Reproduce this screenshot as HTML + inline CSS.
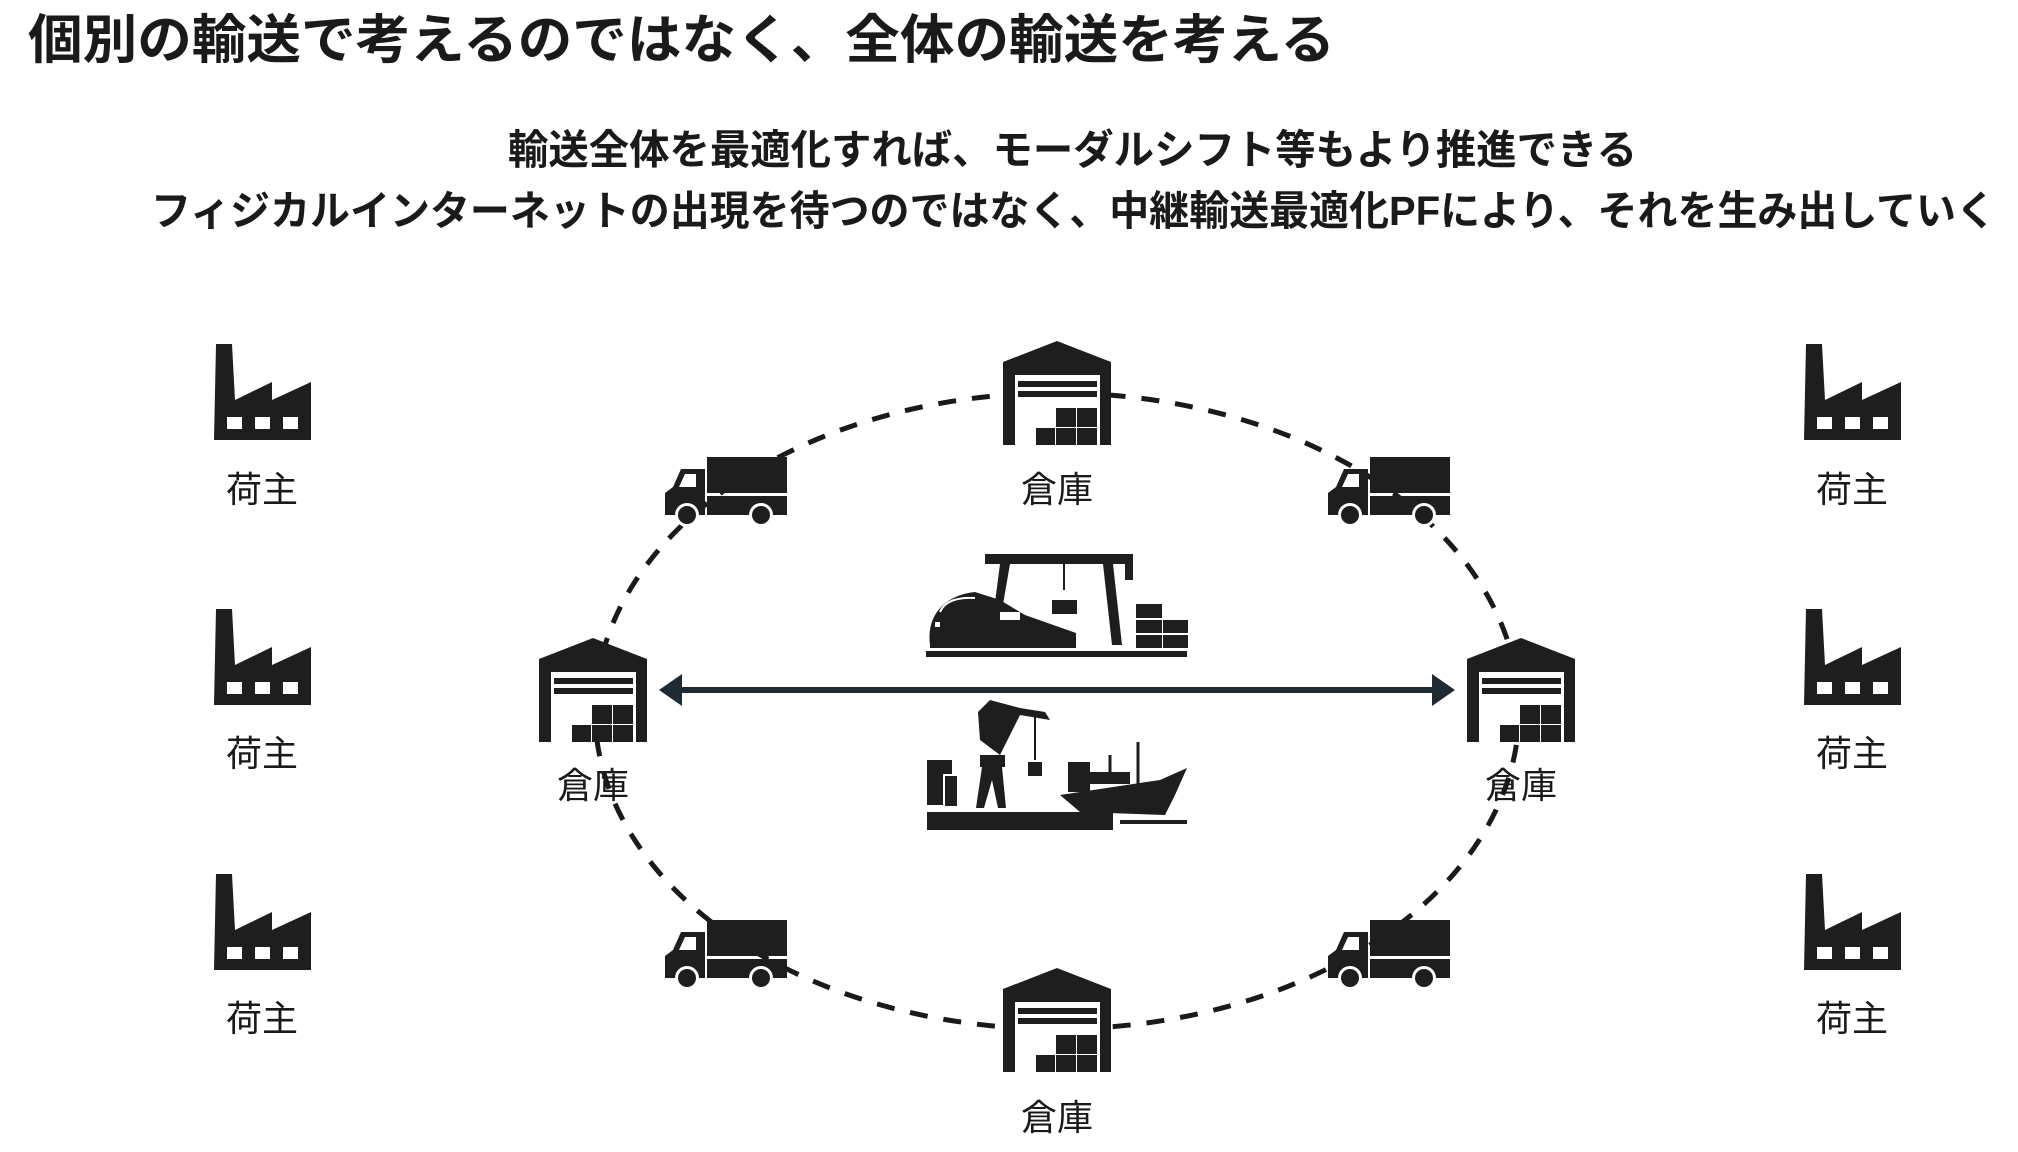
<!DOCTYPE html>
<html><head><meta charset="utf-8"><style>
html,body{margin:0;padding:0;background:#fff;}
svg{display:block;}
text{font-family:"Liberation Sans","Noto Sans CJK JP",sans-serif;fill:#1a1a1a;}
</style></head><body>
<svg width="2018" height="1152" viewBox="0 0 2018 1152" xmlns="http://www.w3.org/2000/svg">
<defs>
<g id="factory">
<path d="M0 96 L2 0 L18 0 L21 56 L58 38 L58 56 L97 38 L97 96 Z" fill="#1e1e1e"/>
<rect x="13" y="73" width="15" height="12" fill="#fff"/>
<rect x="41" y="73" width="15" height="12" fill="#fff"/>
<rect x="69" y="73" width="15" height="12" fill="#fff"/>
</g>
<g id="wh">
<path d="M0 104 L0 21 L54 0 L108 21 L108 104 Z" fill="#1e1e1e"/>
<rect x="12" y="34" width="85" height="70" fill="#fff"/>
<rect x="15" y="40" width="79" height="6" fill="#1e1e1e"/>
<rect x="15" y="50" width="79" height="6" fill="#1e1e1e"/>
<rect x="53" y="67" width="20" height="19" fill="#1e1e1e"/>
<rect x="74" y="67" width="20" height="19" fill="#1e1e1e"/>
<rect x="33" y="87" width="19" height="17" fill="#1e1e1e"/>
<rect x="53" y="87" width="20" height="17" fill="#1e1e1e"/>
<rect x="74" y="87" width="20" height="17" fill="#1e1e1e"/>
</g>
<g id="truck">
<rect x="44" y="0" width="80" height="36" fill="#1e1e1e"/>
<rect x="44" y="39" width="80" height="19" fill="#1e1e1e"/>
<path d="M2 58 L2 36 L10 30 L18 12 L42 12 L42 58 Z" fill="#1e1e1e"/>
<path d="M16 30 L22 17 L33 17 L33 30 Z" fill="#fff"/>
<circle cx="24" cy="58" r="12" fill="#fff"/>
<circle cx="24" cy="58" r="9" fill="#1e1e1e"/>
<circle cx="98" cy="58" r="12" fill="#fff"/>
<circle cx="98" cy="58" r="9" fill="#1e1e1e"/>
</g>
</defs>

<text x="28" y="58" font-size="53" font-weight="bold" textLength="1307" lengthAdjust="spacingAndGlyphs">個別の輸送で考えるのではなく、全体の輸送を考える</text>
<text x="508" y="164" font-size="41" font-weight="bold" textLength="1129" lengthAdjust="spacingAndGlyphs">輸送全体を最適化すれば、モーダルシフト等もより推進できる</text>
<text x="151" y="225" font-size="41" font-weight="bold" textLength="1845" lengthAdjust="spacingAndGlyphs">フィジカルインターネットの出現を待つのではなく、中継輸送最適化PFにより、それを生み出していく</text>

<ellipse cx="1057" cy="711" rx="462" ry="318" fill="none" stroke="#1a1a1a" stroke-width="5" stroke-dasharray="18 16"/>

<use href="#factory" x="214" y="344"/>
<use href="#factory" x="214" y="609"/>
<use href="#factory" x="214" y="874"/>
<use href="#factory" x="1804" y="344"/>
<use href="#factory" x="1804" y="609"/>
<use href="#factory" x="1804" y="874"/>
<g font-size="36" text-anchor="middle">
<text x="262" y="502">荷主</text>
<text x="262" y="766">荷主</text>
<text x="262" y="1031">荷主</text>
<text x="1852" y="502">荷主</text>
<text x="1852" y="766">荷主</text>
<text x="1852" y="1031">荷主</text>
<text x="1057" y="502">倉庫</text>
<text x="593" y="798">倉庫</text>
<text x="1521" y="798">倉庫</text>
<text x="1057" y="1130">倉庫</text>
</g>

<use href="#wh" x="1003" y="341"/>
<use href="#wh" x="539" y="638"/>
<use href="#wh" x="1467" y="638"/>
<use href="#wh" x="1003" y="968"/>

<use href="#truck" x="663" y="457"/>
<use href="#truck" x="1326" y="457"/>
<use href="#truck" x="663" y="920"/>
<use href="#truck" x="1326" y="920"/>

<line x1="675" y1="690" x2="1438" y2="690" stroke="#1f2b33" stroke-width="6"/>
<path d="M659 690 L682 674 L682 706 Z" fill="#1f2b33"/>
<path d="M1455 690 L1432 674 L1432 706 Z" fill="#1f2b33"/>

<g fill="#1e1e1e">
<rect x="926" y="651" width="261" height="6"/>
<rect x="985" y="554" width="148" height="10"/>
<path d="M1000 564 L1010 564 L1002 610 L994 610 Z"/>
<path d="M1103 564 L1113 564 L1122 645 L1112 645 Z"/>
<rect x="1125" y="555" width="8" height="25"/>
<line x1="1064" y1="564" x2="1064" y2="590" stroke="#1e1e1e" stroke-width="2"/>
<rect x="1052" y="600" width="25" height="14"/>
<path d="M930 645 C926 615 945 595 975 592 L1000 600 L1025 615 L1076 633 L1076 648 L930 648 Z"/>
<rect x="1136" y="604" width="26" height="14"/>
<rect x="1136" y="620" width="26" height="13"/>
<rect x="1163" y="620" width="25" height="13"/>
<rect x="1136" y="635" width="26" height="13"/>
<rect x="1163" y="635" width="25" height="13"/>
</g>
<g fill="#fff"><rect x="1000" y="612" width="20" height="8"/><rect x="935" y="622" width="5" height="5"/><path d="M940 612 C945 600 960 597 975 598" stroke="#fff" stroke-width="2" fill="none"/></g>

<g fill="#1e1e1e">
<rect x="927" y="812" width="186" height="18"/>
<rect x="927" y="760" width="16" height="45"/>
<rect x="945" y="776" width="12" height="30"/>
<rect x="938" y="760" width="14" height="14"/>
<path d="M980 740 L1000 755 L1020 715 L1050 720 L1045 712 L1020 708 L990 700 L978 712 Z"/>
<rect x="980" y="755" width="25" height="12"/>
<path d="M982 767 L976 808 L984 808 L992 780 L998 808 L1006 808 L1002 767 Z"/>
<line x1="1035" y1="712" x2="1035" y2="760" stroke="#1e1e1e" stroke-width="2"/>
<rect x="1028" y="762" width="14" height="14"/>
<path d="M1060 795 L1160 780 L1187 768 L1175 795 L1165 815 L1080 812 Z"/>
<rect x="1068" y="762" width="22" height="30"/>
<rect x="1090" y="772" width="40" height="12"/>
<line x1="1138" y1="742" x2="1138" y2="784" stroke="#1e1e1e" stroke-width="3"/>
<line x1="1110" y1="755" x2="1110" y2="784" stroke="#1e1e1e" stroke-width="3"/>
<rect x="1120" y="820" width="67" height="4"/>
</g>
</svg>
</body></html>
